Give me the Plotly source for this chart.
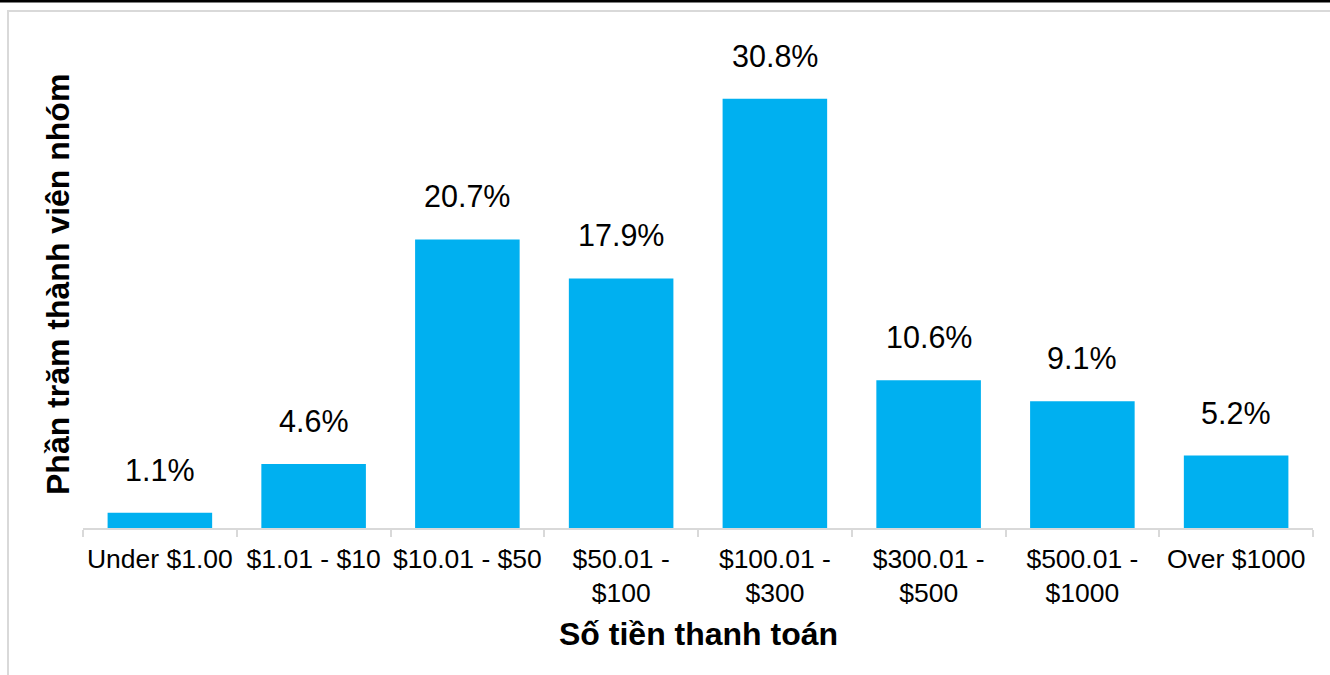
import plotly.graph_objects as go

categories = ["Under $1.00", "$1.01 - $10", "$10.01 - $50", "$50.01 -<br>$100",
              "$100.01 -<br>$300", "$300.01 -<br>$500", "$500.01 -<br>$1000", "Over $1000"]
values = [1.1, 4.6, 20.7, 17.9, 30.8, 10.6, 9.1, 5.2]
labels = ["1.1%", "4.6%", "20.7%", "17.9%", "30.8%", "10.6%", "9.1%", "5.2%"]

FONT = "Arial, Liberation Sans, sans-serif"
W, H = 1330, 675
ML, MR, MT, MB = 83, 17, 68, 147
PW, PH = W - ML - MR, H - MT - MB

def px_x(x):
    return (x - ML) / PW

def px_y(y):
    return (H - MB - y) / PH

fig = go.Figure()
fig.add_trace(go.Bar(x=categories, y=values, marker=dict(color="#00B0F0", line=dict(width=0)),
                     hoverinfo="skip"))

for c, v, t in zip(categories, values, labels):
    fig.add_annotation(x=c, y=v, text=t, showarrow=False, yanchor="middle", yshift=43,
                       font=dict(family=FONT, size=30.5, color="#000000"))

fig.add_annotation(xref="paper", yref="paper", x=0.5, y=px_y(634), text="<b>Số tiền thanh toán</b>",
                   showarrow=False, xanchor="center", yanchor="middle",
                   font=dict(family=FONT, size=32, color="#000000"))
fig.add_annotation(xref="paper", yref="paper", x=px_x(58), y=px_y(285), text="<b>Phần trăm thành viên nhóm</b>",
                   showarrow=False, textangle=-90, xanchor="center", yanchor="middle",
                   font=dict(family=FONT, size=32, color="#000000"))

# outer frame and top rule
fig.add_shape(type="rect", xref="paper", yref="paper", x0=px_x(8), x1=px_x(1400), y0=px_y(720), y1=px_y(11),
              line=dict(color="#d9d9d9", width=2), fillcolor="rgba(0,0,0,0)", layer="below")
fig.add_shape(type="line", xref="paper", yref="paper", x0=px_x(-5), x1=px_x(1400), y0=px_y(1), y1=px_y(1),
              line=dict(color="#000000", width=3))

fig.update_layout(
    width=W, height=H,
    margin=dict(l=ML, r=MR, t=MT, b=MB, autoexpand=False),
    paper_bgcolor="white", plot_bgcolor="white",
    bargap=0.32, showlegend=False,
    font=dict(family=FONT, color="#000000"),
    xaxis=dict(type="category", showline=True, linecolor="#d9d9d9", linewidth=2, automargin=False,
               tickangle=0, ticklabelstandoff=6,
               ticks="outside", tickson="boundaries", ticklen=7, tickcolor="#d9d9d9", tickwidth=2,
               tickfont=dict(family=FONT, size=26.5, color="#000000"), showgrid=False, zeroline=False),
    yaxis=dict(range=[0, 33], visible=False, showgrid=False, zeroline=False, automargin=False),
)

fig.write_html("out.html", config={"displayModeBar": False},
               post_script="document.body.style.margin='0';document.body.style.overflow='hidden';")
